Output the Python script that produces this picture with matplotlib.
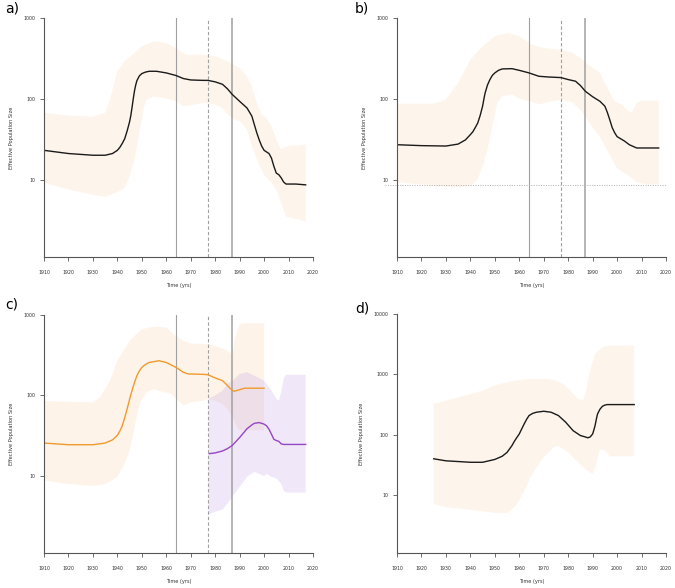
import numpy as np
import matplotlib
matplotlib.use("Agg")
import matplotlib.pyplot as plt
import matplotlib.transforms as mtransforms

# ---- panel a ----
a_yr = [1910, 1920, 1930, 1935, 1938, 1940, 1941, 1942, 1943, 1944, 1945, 1945.5, 1946, 1946.5,
        1947, 1947.5, 1948, 1949, 1950, 1951.5, 1953, 1956, 1960, 1964, 1967, 1970, 1975, 1977,
        1980, 1983, 1985, 1987, 1990, 1993, 1995, 1996, 1997, 1998, 1999, 2000, 2002, 2003,
        2004, 2005, 2006, 2007, 2008, 2009, 2013, 2017]
a_med = [23, 21, 20, 20, 21, 23, 25, 28, 32, 40, 52, 62, 78, 100,
         125, 148, 168, 192, 205, 214, 219, 219, 209, 194, 178, 171, 169, 169,
         162, 151, 133, 113, 93, 77, 61, 48, 38, 31, 26, 23, 21, 18.5,
         14.6, 12, 11.5, 10.5, 9.3, 8.8, 8.8, 8.6]
a_hyr = [1910, 1920, 1930, 1935, 1937, 1940, 1943, 1947, 1950, 1955, 1960, 1965, 1968, 1975,
         1980, 1985, 1990, 1993, 1995, 1997, 1999, 2001, 2003, 2005, 2007, 2008, 2010, 2017]
a_up = [67, 62, 60, 67, 98, 219, 291, 369, 446, 515, 490, 405, 351, 351,
        336, 291, 241, 190, 143, 89, 64, 58, 46, 31, 23.5, 25, 26, 27]
a_lyr = [1910, 1920, 1930, 1935, 1940, 1943, 1945, 1947, 1949, 1951, 1952, 1955, 1960, 1964,
         1967, 1970, 1975, 1980, 1983, 1985, 1988, 1990, 1993, 1995, 1998, 2000, 2003, 2005,
         2007, 2009, 2012, 2017]
a_lo = [9.1, 7.5, 6.5, 6.1, 7, 7.9, 11, 17.7, 38, 81, 98, 107, 101, 93,
        81, 83, 89, 85, 77, 64, 55, 53, 42, 26, 15, 11.5, 9.1, 7.5,
        5.1, 3.5, 3.3, 3.05]

# ---- panel b ----
b_yr = [1910, 1920, 1930, 1935, 1938, 1940, 1941, 1942, 1943, 1944, 1945, 1945.5, 1946, 1947,
        1948, 1949, 1950, 1951.5, 1953, 1957, 1960, 1964, 1968, 1972, 1977, 1980, 1983, 1985,
        1987, 1990, 1993, 1995, 1996, 1997, 1998, 1999, 2000, 2003, 2005, 2008, 2017]
b_med = [27, 26.3, 26, 27.5, 31, 36, 39, 44, 50, 62, 81, 98, 117, 148,
         173, 195, 209, 225, 234, 236, 225, 209, 190, 186, 183, 173, 165, 146,
         124, 106, 93, 81, 68, 55, 44, 38, 34, 30, 27, 24.6, 24.6]
b_hyr = [1910, 1925, 1930, 1935, 1940, 1945, 1950, 1955, 1960, 1965, 1970, 1977, 1982, 1985,
         1990, 1993, 1996, 1999, 2002, 2004, 2006, 2008, 2010, 2017]
b_up = [87, 87, 98, 157, 305, 446, 593, 652, 593, 468, 424, 405, 369, 320,
        241, 209, 136, 93, 85, 73, 67, 89, 95, 95]
b_lyr = [1910, 1920, 1930, 1935, 1940, 1943, 1945, 1947, 1949, 1951, 1953, 1957, 1960, 1964,
         1968, 1972, 1977, 1982, 1985, 1988, 1990, 1993, 1995, 1998, 2000, 2003, 2005, 2008,
         2012, 2017]
b_lo = [9.3, 8.7, 8.1, 8, 8.3, 10, 14.6, 23.5, 46, 89, 107, 113, 101, 93,
        85, 91, 98, 89, 73, 55, 44, 34, 26, 17.7, 13.9, 12, 11, 9.3,
        8.7, 8.7]
b_ref = 8.6

# ---- panel c ----
c_yr = [1910, 1920, 1930, 1935, 1938, 1940, 1941, 1942, 1943, 1944, 1945, 1946, 1947, 1948,
        1949, 1950, 1951.5, 1953, 1957, 1960, 1964, 1967, 1969, 1975, 1977, 1980, 1983, 1985,
        1987, 1988, 1990, 1992, 2000]
c_med = [25.6, 24.4, 24.4, 25.6, 28, 32, 36, 42, 53, 68, 90, 115, 145, 176,
         202, 223, 243, 257, 270, 257, 223, 194, 185, 183, 181, 165, 153, 133,
         115, 113, 118, 123, 123]
c_hyr = [1910, 1930, 1933, 1937, 1940, 1945, 1950, 1955, 1960, 1963, 1967, 1970, 1977, 1982,
         1985, 1987, 1988, 1990, 1992, 2000]
c_up = [85, 82, 95, 153, 270, 476, 665, 717, 696, 576, 476, 441, 433, 394,
        359, 326, 500, 767, 790, 790]
c_lyr = [1910, 1920, 1930, 1935, 1940, 1943, 1945, 1947, 1949, 1952, 1955, 1958, 1962, 1965,
         1967, 1970, 1975, 1977, 1980, 1983, 1985, 1987, 1989, 1990, 2000]
c_lo = [8.8, 7.9, 7.5, 7.9, 9.7, 14.2, 20.7, 40, 78, 110, 120, 112, 105, 86,
        75, 82, 86, 90, 86, 78, 68, 54, 40, 37, 37]

p_yr = [1977.6, 1980, 1983, 1985, 1987, 1990, 1993, 1995, 1996, 1998, 2000, 2001, 2002, 2003,
        2004, 2005, 2006, 2007, 2008, 2017]
p_med = [18.9, 19.3, 20.4, 21.8, 23.9, 30, 38.5, 43, 45, 46, 44, 42, 38, 33,
         28.5, 27.5, 26.9, 25, 24.6, 24.6]
p_hyr = [1977.3, 1980, 1983, 1985, 1988, 1990, 1993, 1996, 2000, 2003, 2005, 2006, 2007, 2008,
         2009, 2017]
p_up = [91, 100, 115, 139, 160, 185, 194, 176, 153, 115, 91, 86, 110, 160,
        181, 181]
p_lyr = [1977.3, 1980, 1983, 1985, 1987, 1990, 1993, 1996, 1998, 2000, 2001, 2003, 2005, 2007,
         2008, 2009, 2017]
p_lo = [3.3, 3.6, 3.8, 4.5, 5.5, 7.3, 9.7, 11.2, 10.6, 9.9, 10.6, 9.7, 9.3, 8,
        6.6, 6.2, 6.2]

# ---- panel d ----
d_yr = [1925, 1930, 1935, 1940, 1945, 1950, 1953, 1955, 1957, 1958, 1959, 1960, 1961, 1962,
        1963, 1964, 1965.5, 1967, 1970, 1973, 1976, 1979, 1982, 1985, 1987, 1988, 1989, 1990,
        1990.5, 1991, 1991.5, 1992, 1993, 1994, 1995, 1996, 2007]
d_med = [40, 37, 36, 35, 35, 39, 44, 51, 66, 78, 90, 103, 125, 151,
         180, 208, 226, 236, 245, 236, 208, 161, 117, 97, 92, 89, 92, 103,
         120, 142, 180, 221, 265, 296, 310, 316, 316]
d_hyr = [1925, 1930, 1935, 1940, 1945, 1950, 1955, 1960, 1965, 1972, 1975, 1978, 1981, 1984,
         1986, 1987, 1989, 1991, 1994, 1997, 2007]
d_up = [325, 368, 418, 474, 538, 652, 740, 809, 840, 840, 789, 695, 538, 392,
        376, 474, 1153, 2178, 2806, 2992, 2992]
d_lyr = [1925, 1930, 1940, 1945, 1950, 1955, 1958, 1960, 1963, 1965, 1968, 1970, 1974, 1976,
         1980, 1984, 1987, 1990, 1991, 1993, 1995, 1997, 2007]
d_lo = [7.2, 6.3, 5.7, 5.4, 5.1, 5.1, 6.3, 8.1, 14.4, 21, 33, 42, 62, 66,
        51, 35, 27, 22.5, 27.5, 58, 55, 44, 44]

events = [1964, 1977, 1987]
x_ticks = list(range(1910, 2021, 10))

PEACH = '#f9d9b8'
LILAC = '#b58be0'
ORANGE = '#f09a2e'
PURPLE = '#9546c4'
GREY = '#a0a0a0'
AXC = '#555555'


def band(ax, hx, hy, lx, ly, color, alpha):
    # HPD band as one polygon: upper edge forward, lower edge back
    xs = list(hx) + list(lx)[::-1]
    ys = list(hy) + list(ly)[::-1]
    ax.fill(xs, ys, color=color, alpha=alpha, lw=0)


def style(ax, ymax):
    ax.set_yscale('log')
    ax.set_xlim(1910, 2020)
    ax.set_ylim(1.1, ymax)
    ax.set_xticks(x_ticks)
    ax.set_xticklabels([str(t) for t in x_ticks])
    yt = [10 ** k for k in range(1, int(round(np.log10(ymax))) + 1)]
    ax.set_yticks(yt)
    ax.set_yticklabels([str(v) for v in yt])
    ax.yaxis.set_minor_locator(matplotlib.ticker.NullLocator())
    for s in ['top', 'right']:
        ax.spines[s].set_visible(False)
    for s in ['left', 'bottom']:
        ax.spines[s].set_color(AXC)
        ax.spines[s].set_linewidth(0.8)
    ax.tick_params(axis='x', labelsize=3.4, length=3, width=0.6, color=AXC,
                   pad=6, labelcolor='#333333')
    ax.tick_params(axis='y', labelsize=3.4, length=3, width=0.6, color=AXC,
                   pad=3, labelcolor='#333333')
    ax.set_xlabel('Time (yrs)', fontsize=3.6, color='#333333', labelpad=6)
    ax.set_ylabel('Effective Population Size', fontsize=3.6, color='#333333', labelpad=7)
    ax.patch.set_visible(False)


def vlines(ax):
    ax.axvline(events[0], color=GREY, lw=0.8)
    ax.axvline(events[1], color=GREY, lw=0.8, ls=(0, (3, 2)))
    ax.axvline(events[2], color=GREY, lw=1.1)


fig = plt.figure(figsize=(6.75, 5.88), dpi=100)
W, H = 675, 588
ax_a = fig.add_axes([44 / W, 1 - 257 / H, 269 / W, 239 / H])
ax_b = fig.add_axes([397 / W, 1 - 257 / H, 269 / W, 239 / H])
ax_c = fig.add_axes([44 / W, 1 - 553 / H, 269 / W, 238 / H])
ax_d = fig.add_axes([397 / W, 1 - 553 / H, 269 / W, 239 / H])

# a
band(ax_a, a_hyr, a_up, a_lyr, a_lo, PEACH, 0.27)
vlines(ax_a)
ax_a.plot(a_yr, a_med, color='#1a1a1a', lw=1.0)
style(ax_a, 1000)

# b
band(ax_b, b_hyr, b_up, b_lyr, b_lo, PEACH, 0.27)
vlines(ax_b)
tr = mtransforms.blended_transform_factory(ax_b.transAxes, ax_b.transData)
ax_b.plot([-0.045, 1.0], [b_ref, b_ref], transform=tr, color='#b0b0b0', lw=0.7,
          ls=(0, (1, 1.5)), clip_on=False)
ax_b.plot(b_yr, b_med, color='#1a1a1a', lw=1.0)
style(ax_b, 1000)

# c
band(ax_c, c_hyr, c_up, c_lyr, c_lo, PEACH, 0.3)
band(ax_c, p_hyr, p_up, p_lyr, p_lo, LILAC, 0.2)
vlines(ax_c)
ax_c.plot(c_yr, c_med, color=ORANGE, lw=1.0)
ax_c.plot(p_yr, p_med, color=PURPLE, lw=1.0)
style(ax_c, 1000)

# d
band(ax_d, d_hyr, d_up, d_lyr, d_lo, PEACH, 0.27)
ax_d.plot(d_yr, d_med, color='#1a1a1a', lw=1.0)
style(ax_d, 10000)

fig.text(5 / W, 1 - 9 / H, 'a)', fontsize=10, va='center', ha='left')
fig.text(355 / W, 1 - 9 / H, 'b)', fontsize=10, va='center', ha='left')
fig.text(5 / W, 1 - 304 / H, 'c)', fontsize=10, va='center', ha='left')
fig.text(355 / W, 1 - 309 / H, 'd)', fontsize=10, va='center', ha='left')

fig.savefig('out.png', dpi=100)
